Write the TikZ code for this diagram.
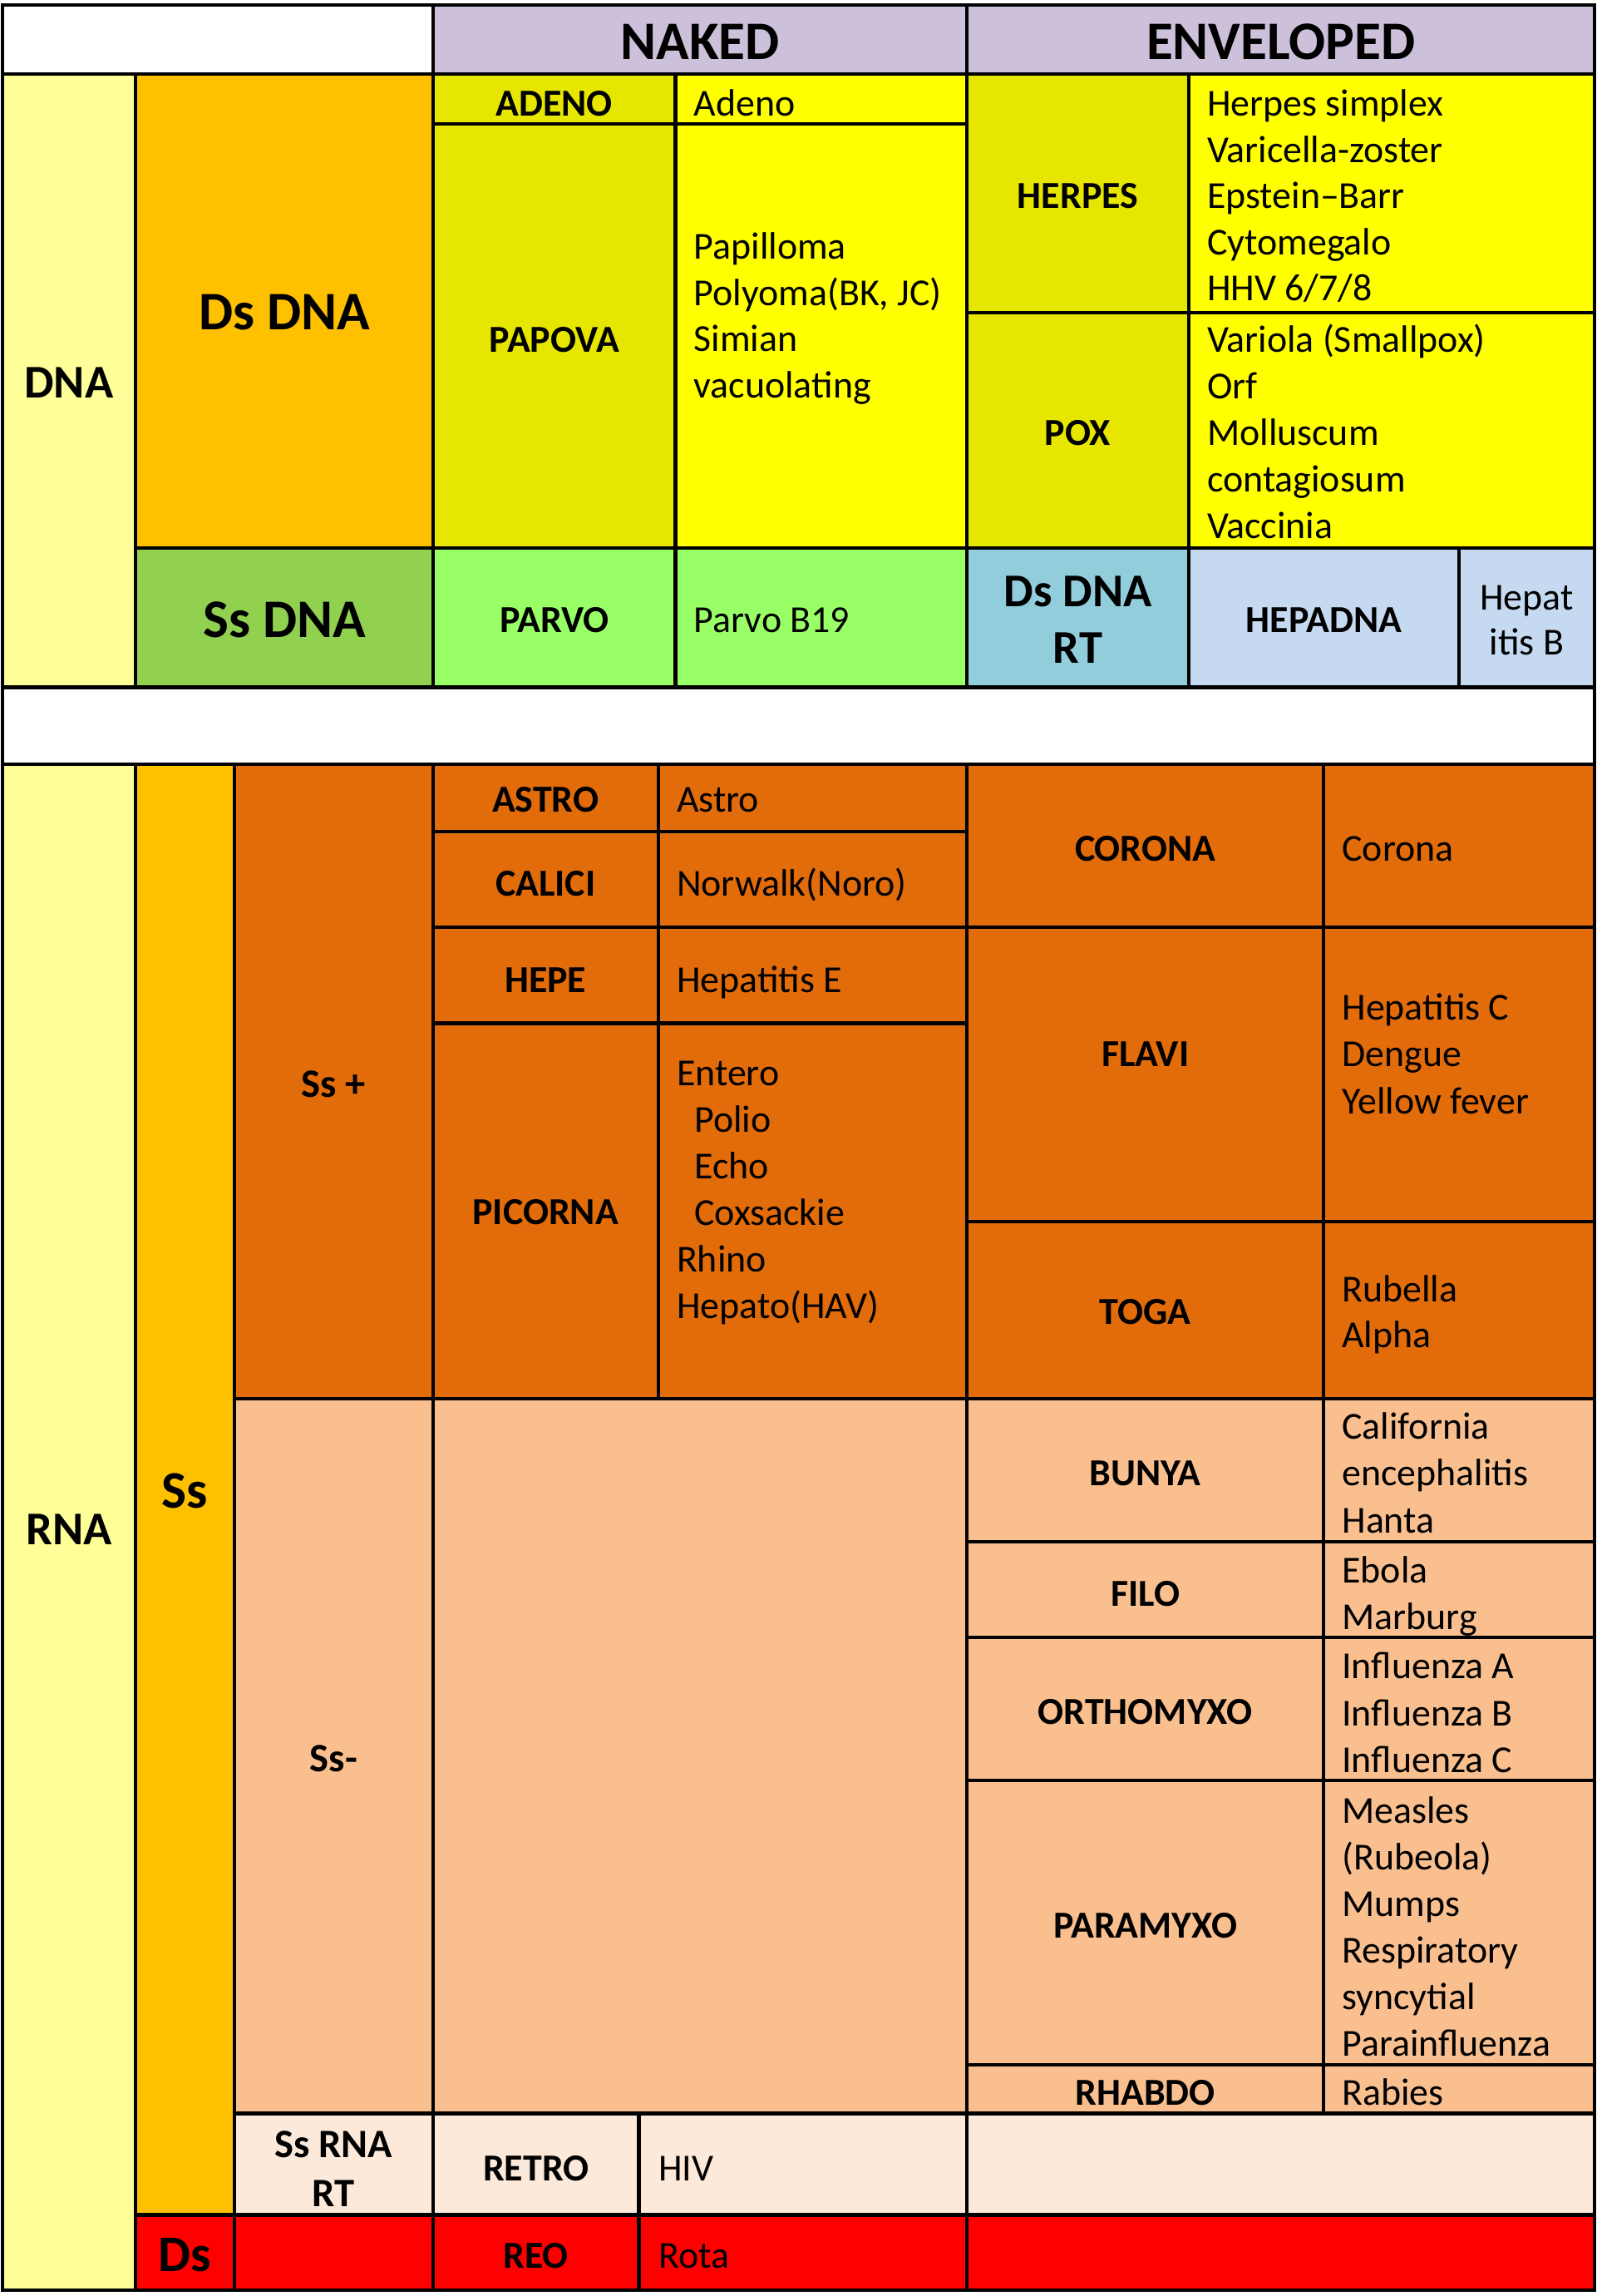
\documentclass[tikz,border=0pt]{standalone}
\usepackage{fontspec}
\setmainfont{Carlito}
\definecolor{lav}{HTML}{CCC0DA}
\definecolor{ltyel}{HTML}{FFFF99}
\definecolor{gold}{HTML}{FFC000}
\definecolor{olivey}{HTML}{E6E600}
\definecolor{yel}{HTML}{FFFF00}
\definecolor{grn}{HTML}{92D050}
\definecolor{ltgrn}{HTML}{99FF66}
\definecolor{blu}{HTML}{92CDDC}
\definecolor{ltblu}{HTML}{C5D9F1}
\definecolor{org}{HTML}{E26B0A}
\definecolor{peach}{HTML}{FABF8F}
\definecolor{ltpeach}{HTML}{FDE9D9}
\definecolor{rred}{HTML}{FF0000}
\tikzset{
  cell/.style={draw=black, line width=2.4pt},
  lab/.style={font=\bfseries\fontsize{26}{31}\selectfont, anchor=base, inner sep=0pt},
  biglab/.style={lab, font=\bfseries\fontsize{37}{44}\selectfont},
  midlab/.style={lab, font=\bfseries\fontsize{32}{39}\selectfont},
  smlab/.style={lab, font=\bfseries\fontsize{27.5}{33}\selectfont},
  txt/.style={font=\fontsize{26}{31}\selectfont, anchor=base west, inner sep=0pt},
}
\newcommand\cellbox[5]{\path[cell, fill=#5] (#1,#2) rectangle (#3,#4);}
\newcommand\vlist[5]{\foreach \t [count=\i from 0] in {#5} {\node[txt, name=#1\i] at (#2, #3+\i*#4) {\t};}}
\begin{document}
\begin{tikzpicture}[x=1pt,y=-1pt]
\useasboundingbox (0,0) rectangle (1089,1565.2);
% ---------- header
\cellbox{1.5}{3.2}{295.5}{50.4}{white}
\cellbox{295.5}{3.2}{659.5}{50.4}{lav}
\cellbox{659.5}{3.2}{1087.5}{50.4}{lav}
% ---------- DNA
\cellbox{1.5}{50.4}{92.5}{468.6}{ltyel}
\cellbox{92.5}{50.4}{295.5}{373.6}{gold}
\cellbox{295.5}{50.4}{460.6}{84.6}{olivey}
\cellbox{460.6}{50.4}{659.5}{84.6}{yel}
\cellbox{295.5}{84.6}{460.6}{373.6}{olivey}
\cellbox{460.6}{84.6}{659.5}{373.6}{yel}
\cellbox{659.5}{50.4}{810.6}{213}{olivey}
\cellbox{810.6}{50.4}{1087.5}{213}{yel}
\cellbox{659.5}{213}{810.6}{373.6}{olivey}
\cellbox{810.6}{213}{1087.5}{373.6}{yel}
\cellbox{92.5}{373.6}{295.5}{468.6}{grn}
\cellbox{295.5}{373.6}{460.6}{468.6}{ltgrn}
\cellbox{460.6}{373.6}{659.5}{468.6}{ltgrn}
\cellbox{659.5}{373.6}{810.6}{468.6}{blu}
\cellbox{810.6}{373.6}{995}{468.6}{ltblu}
\cellbox{995}{373.6}{1087.5}{468.6}{ltblu}
% ---------- gap
\cellbox{1.5}{468.6}{1087.5}{520.9}{white}
% ---------- RNA
\cellbox{1.5}{520.9}{92.5}{1561.3}{ltyel}
\cellbox{92.5}{520.9}{160}{1509.9}{gold}
\cellbox{92.5}{1509.9}{160}{1561.3}{rred}
\cellbox{160}{520.9}{295.5}{953.3}{org}
\cellbox{295.5}{520.9}{448.8}{566.8}{org}
\cellbox{448.8}{520.9}{659.5}{566.8}{org}
\cellbox{295.5}{566.8}{448.8}{631.9}{org}
\cellbox{448.8}{566.8}{659.5}{631.9}{org}
\cellbox{295.5}{631.9}{448.8}{697.6}{org}
\cellbox{448.8}{631.9}{659.5}{697.6}{org}
\cellbox{295.5}{697.6}{448.8}{953.3}{org}
\cellbox{448.8}{697.6}{659.5}{953.3}{org}
\cellbox{659.5}{520.9}{902.4}{631.9}{org}
\cellbox{902.4}{520.9}{1087.5}{631.9}{org}
\cellbox{659.5}{631.9}{902.4}{832.7}{org}
\cellbox{902.4}{631.9}{1087.5}{832.7}{org}
\cellbox{659.5}{832.7}{902.4}{953.3}{org}
\cellbox{902.4}{832.7}{1087.5}{953.3}{org}
\cellbox{160}{953.3}{295.5}{1440.8}{peach}
\cellbox{295.5}{953.3}{659.5}{1440.8}{peach}
\cellbox{659.5}{953.3}{902.4}{1051}{peach}
\cellbox{902.4}{953.3}{1087.5}{1051}{peach}
\cellbox{659.5}{1051}{902.4}{1116.2}{peach}
\cellbox{902.4}{1051}{1087.5}{1116.2}{peach}
\cellbox{659.5}{1116.2}{902.4}{1213.8}{peach}
\cellbox{902.4}{1116.2}{1087.5}{1213.8}{peach}
\cellbox{659.5}{1213.8}{902.4}{1407.5}{peach}
\cellbox{902.4}{1213.8}{1087.5}{1407.5}{peach}
\cellbox{659.5}{1407.5}{902.4}{1440.8}{peach}
\cellbox{902.4}{1407.5}{1087.5}{1440.8}{peach}
\cellbox{160}{1440.8}{295.5}{1509.9}{ltpeach}
\cellbox{295.5}{1440.8}{435.6}{1509.9}{ltpeach}
\cellbox{435.6}{1440.8}{659.5}{1509.9}{ltpeach}
\cellbox{659.5}{1440.8}{1087.5}{1509.9}{ltpeach}
\cellbox{160}{1509.9}{295.5}{1561.3}{rred}
\cellbox{295.5}{1509.9}{435.6}{1561.3}{rred}
\cellbox{435.6}{1509.9}{659.5}{1561.3}{rred}
\cellbox{659.5}{1509.9}{1087.5}{1561.3}{rred}
% ---------- labels
\node[biglab] (naked) at (477.5,40.7) {NAKED};
\node[biglab] (env) at (873.5,40.7) {ENVELOPED};
\node[midlab] (dna) at (47,271) {DNA};
\node[biglab] (dsdna) at (194,224.5) {Ds DNA};
\node[lab] (adeno) at (378,79) {ADENO};
\node[lab] (papova) at (378,239.8) {PAPOVA};
\node[lab] (herpes) at (735,142.2) {HERPES};
\node[lab] (pox) at (735,303.3) {POX};
\node[biglab] (ssdna) at (194,434.4) {Ss DNA};
\node[lab] (parvo) at (378,431.2) {PARVO};
\node[midlab] (rt1) at (735,413.3) {Ds DNA};
\node[midlab] (rt2) at (735,452.3) {RT};
\node[lab] (hepadna) at (902.8,431) {HEPADNA};
\node[lab, font=\fontsize{26}{31}\selectfont] (hb1) at (1041,415.9) {Hepat};
\node[lab, font=\fontsize{26}{31}\selectfont] (hb2) at (1041,446.5) {itis B};
\node[midlab] (rna) at (47,1053.1) {RNA};
\node[lab, font=\bfseries\fontsize{36}{43}\selectfont] (ss) at (126,1027.8) {Ss};
\node[lab, font=\bfseries\fontsize{35}{42}\selectfont] (ds) at (126,1548.2) {Ds};
\node[smlab] (ssplus) at (227.5,748) {Ss +};
\node[lab] (astro) at (372,553.4) {ASTRO};
\node[lab] (calici) at (372,610.7) {CALICI};
\node[lab] (hepe) at (372,676.4) {HEPE};
\node[lab] (picorna) at (372,834.9) {PICORNA};
\node[lab] (corona) at (781,586.9) {CORONA};
\node[lab] (flavi) at (781,726.8) {FLAVI};
\node[lab] (toga) at (781,902.6) {TOGA};
\node[smlab] (ssminus) at (227.5,1207.8) {Ss-};
\node[lab] (bunya) at (781,1012.5) {BUNYA};
\node[lab] (filo) at (781,1094.9) {FILO};
\node[lab] (ortho) at (781,1175.7) {ORTHOMYXO};
\node[lab] (para) at (781,1321.1) {PARAMYXO};
\node[lab] (rhabdo) at (781,1434.8) {RHABDO};
\node[smlab] (ssrt1) at (227.5,1470.6) {Ss RNA};
\node[smlab] (ssrt2) at (227.5,1504) {RT};
\node[lab] (retro) at (365.5,1486.6) {RETRO};
\node[lab] (reo) at (365.5,1546.1) {REO};
% ---------- virus lists
\vlist{adl}{473}{79}{31.5}{Adeno}
\vlist{hel}{823}{79.1}{31.5}{Herpes simplex, Varicella-zoster, Epstein–Barr, Cytomegalo, HHV 6/7/8}
\vlist{pal}{473}{176.7}{31.5}{Papilloma, {Polyoma(BK, JC)}, Simian, vacuolating}
\vlist{pol}{823}{240.1}{31.7}{Variola (Smallpox), Orf, Molluscum, contagiosum, Vaccinia}
\vlist{pvl}{473}{431.2}{31.5}{Parvo B19}
\vlist{asl}{461.3}{553.4}{31.5}{Astro}
\vlist{cal}{461.3}{610.7}{31.5}{Norwalk(Noro)}
\vlist{hpl}{461.3}{676.4}{31.5}{Hepatitis E}
\vlist{pil}{461.3}{739.9}{31.74}{Entero, \hspace*{12pt}Polio, \hspace*{12pt}Echo, \hspace*{12pt}Coxsackie, Rhino, Hepato(HAV)}
\vlist{col}{915}{586.9}{31.5}{Corona}
\vlist{fll}{915}{695.3}{32}{Hepatitis C, Dengue, Yellow fever}
\vlist{tol}{915}{887.3}{31.5}{Rubella, Alpha}
\vlist{bul}{915}{980.8}{32}{California, encephalitis, Hanta}
\vlist{fil}{915}{1078.9}{32.1}{Ebola, Marburg}
\vlist{orl}{915}{1144.3}{32.15}{Influenza A, Influenza B, Influenza C}
\vlist{prl}{915}{1242.8}{31.75}{Measles, (Rubeola), Mumps, Respiratory, syncytial, Parainfluenza}
\vlist{rhl}{915}{1434.8}{31.5}{Rabies}
\vlist{rel}{448.8}{1486.6}{31.5}{HIV}
\vlist{rol}{448.8}{1546.1}{31.5}{Rota}
\end{tikzpicture}
\end{document}
